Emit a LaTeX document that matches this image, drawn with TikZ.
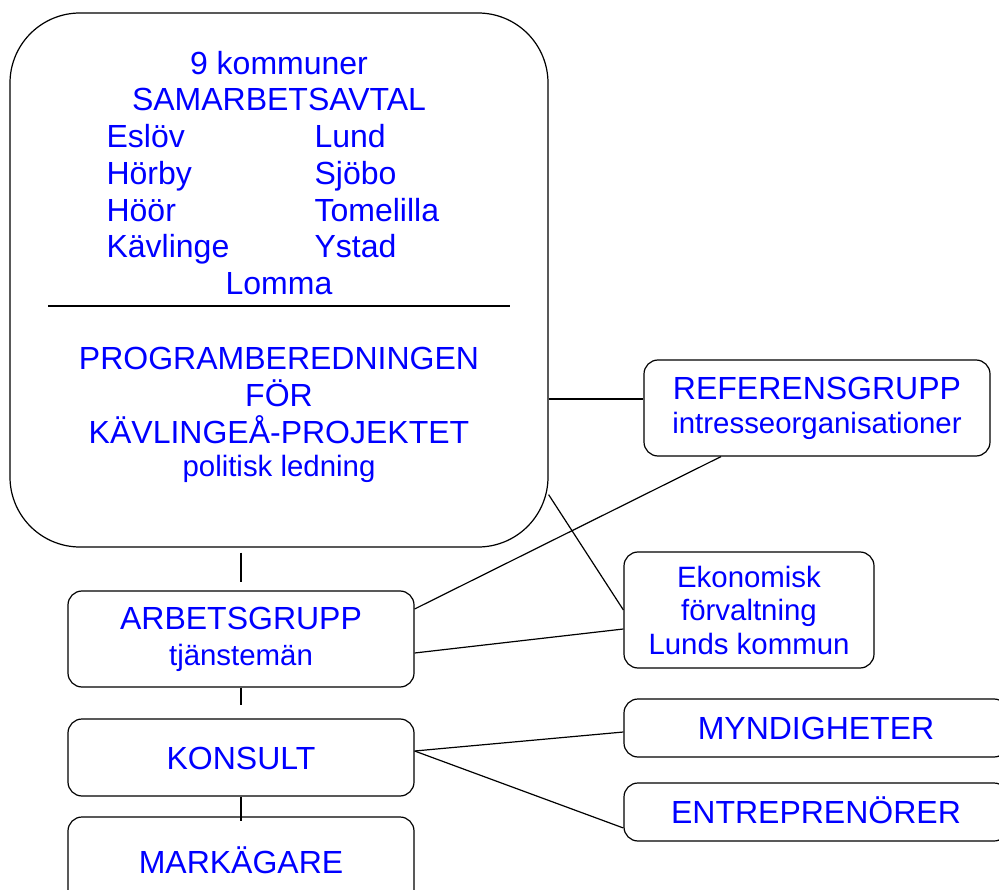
\documentclass[tikz,border=0pt]{standalone}
\usepackage{fontspec}
\setmainfont{Liberation Sans}
\usetikzlibrary{calc}
\definecolor{TextBlue}{HTML}{0000FF}
\newcommand{\bigtxt}{\fontsize{32}{37}\selectfont}
\newcommand{\smalltxt}{\fontsize{29.4}{33.5}\selectfont}

\begin{document}
\begin{tikzpicture}[x=1pt, y=-1pt, line width=1.2pt,
  box/.style={draw, rounded corners=14pt, inner sep=0pt, align=center,
    text=TextBlue, font=\bigtxt},
  onebox/.style={box, text height=23pt, text depth=0pt},
  txt/.style={anchor=base, inner sep=0pt, text=TextBlue, font=\bigtxt}]
  \useasboundingbox (0,0) rectangle (999,890);
  \clip (0,0) rectangle (999,890);

  % the big box
  \node[draw, rounded corners=70pt, minimum width=538pt, minimum height=534pt]
    (prog) at (279,280) {};

  \node[txt] (komm) at (279,75) {9 kommuner};
  \node[txt] (avtal) at (279,111) {SAMARBETSAVTAL};
  \foreach \wname/\ename [count=\i] in {Eslöv/Lund, Hörby/Sjöbo,
      Höör/Tomelilla, Kävlinge/Ystad}{%
    \node[txt, anchor=base west] (lw\i) at (106,{147.5+36.8*(\i-1)}) {\wname};
    \node[txt, anchor=base west] (le\i) at (314,{147.5+36.8*(\i-1)}) {\ename};
  }
  \node[txt] (lomma) at (279,295) {Lomma};
  \draw (48,306) -- (510,306);
  \node[txt] (pb) at (279,370) {PROGRAMBEREDNINGEN};
  \node[txt] (for) at (279,406.5) {FÖR};
  \node[txt] (kp) at (279,443) {KÄVLINGEÅ-PROJEKTET};
  \node[txt, font=\smalltxt] (pol) at (279,477) {politisk ledning};

  % the small boxes
  \node[box, minimum width=346pt, minimum height=96pt] (ref) at (817,408)
    {REFERENSGRUPP\\[-3pt]{\smalltxt intresseorganisationer}};
  \node[box, font=\smalltxt, minimum width=250pt, minimum height=116pt]
    (eko) at (749,610) {Ekonomisk\\förvaltning\\Lunds kommun};
  \node[box, minimum width=346pt, minimum height=96pt] (arb) at (241,639)
    {ARBETSGRUPP\\[-1pt]{\smalltxt tjänstemän}};
  \node[onebox, minimum width=346pt, minimum height=77pt] (kons) at (241,757.5)
    {KONSULT};
  \node[onebox, minimum width=346pt, minimum height=89pt] (mark) at (241,861.5)
    {MARKÄGARE};
  \node[onebox, minimum width=384pt, minimum height=58pt] (myn) at (816,728)
    {MYNDIGHETER};
  \node[onebox, minimum width=384pt, minimum height=58pt] (ent) at (816,812)
    {ENTREPRENÖRER};

  % connectors
  \draw[shorten <=5pt, shorten >=8pt] (arb.north |- prog.south) -- (arb.north);
  \draw[shorten >=13pt] (arb.south) -- (kons.north);
  \draw (kons.south) -- ([yshift=-5pt]mark.north);
  \draw ([yshift=9pt]ref.west -| prog.east) -- ([yshift=9pt]ref.west);
  \draw ([yshift=53pt]prog.south east) -- (eko.west);
  \draw ([xshift=-96pt]ref.south) -- ([yshift=30pt]arb.east);
  \draw ([yshift=-19pt]eko.west) -- ([yshift=-14pt]arb.east);
  \draw ([yshift=6.5pt]kons.east) -- ([yshift=-4pt]myn.west);
  \draw ([yshift=6.5pt]kons.east) -- ([yshift=-16pt]ent.west);
\end{tikzpicture}
\end{document}
